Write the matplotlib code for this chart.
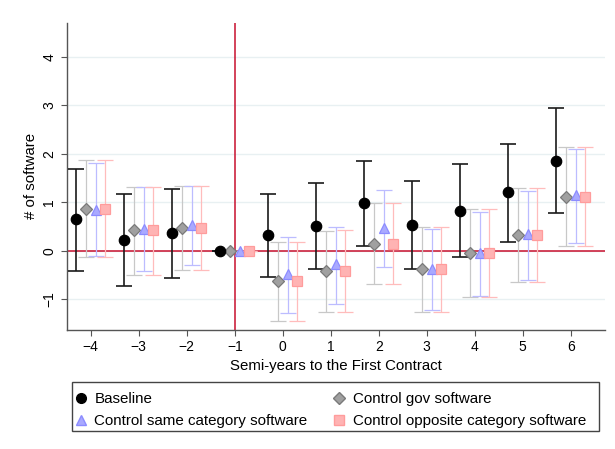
import numpy as np
import matplotlib
matplotlib.use("Agg")
import matplotlib.pyplot as plt
from matplotlib.lines import Line2D
from matplotlib.patches import Rectangle

plt.rcParams['font.family'] = ['Liberation Sans', 'DejaVu Sans']

# semi-years relative to first contract
periods = [-4, -3, -2, -1, 0, 1, 2, 3, 4, 5, 6]

base = [0.65, 0.22, 0.36, 0, 0.32, 0.51, 0.98, 0.53, 0.83, 1.21, 1.86]
base_lo = [-0.42, -0.72, -0.55, 0, -0.54, -0.38, 0.10, -0.38, -0.12, 0.19, 0.78]
base_hi = [1.69, 1.18, 1.27, 0, 1.17, 1.39, 1.85, 1.44, 1.78, 2.21, 2.95]

gov = [0.87, 0.43, 0.47, 0, -0.63, -0.41, 0.15, -0.38, -0.05, 0.32, 1.11]
gov_lo = [-0.12, -0.49, -0.40, 0, -1.44, -1.26, -0.68, -1.26, -0.96, -0.64, 0.10]
gov_hi = [1.87, 1.32, 1.33, 0, 0.19, 0.41, 0.99, 0.50, 0.86, 1.29, 2.14]

same = [0.85, 0.46, 0.54, 0, -0.48, -0.27, 0.47, -0.37, -0.04, 0.34, 1.15]
same_lo = [-0.10, -0.41, -0.30, 0, -1.28, -1.10, -0.34, -1.21, -0.92, -0.59, 0.16]
same_hi = [1.80, 1.31, 1.33, 0, 0.28, 0.50, 1.25, 0.46, 0.80, 1.24, 2.10]

opp = [0.87, 0.42, 0.47, 0, -0.63, -0.42, 0.15, -0.38, -0.05, 0.32, 1.11]
opp_lo = [-0.12, -0.50, -0.40, 0, -1.44, -1.26, -0.68, -1.26, -0.96, -0.64, 0.10]
opp_hi = [1.87, 1.32, 1.33, 0, 0.19, 0.43, 0.99, 0.50, 0.86, 1.29, 2.14]

fig = plt.figure(figsize=(6.15, 4.49), dpi=100)
ax = fig.add_axes([0.1085, 0.265, 0.875, 0.6845])

x = np.array(periods, dtype=float)

def draw(vals, lo, hi, off, mk, ms, fc, ec, errc, lw, z):
    vals = np.array(vals)
    yerr = [vals - np.array(lo), np.array(hi) - vals]
    ax.errorbar(x + off, vals, yerr=yerr, fmt="none", ecolor=errc,
                elinewidth=lw, capsize=5.5, capthick=lw, zorder=z)
    ax.plot(x + off, vals, linestyle="none", marker=mk, markersize=ms,
            markerfacecolor=fc, markeredgecolor=ec, markeredgewidth=0.9,
            zorder=z + 5)

draw(base, base_lo, base_hi, -0.3, "o", 7.5, "black", "black", "#1a1a1a", 1.2, 4)
draw(gov, gov_lo, gov_hi, -0.1, "D", 6.5, "#a0a0a0", "#7a7a7a", "#c8c8c8", 0.9, 3)
draw(same, same_lo, same_hi, 0.1, "^", 7, "#a9a9ff", "#8c8cff", "#bcbcff", 0.9, 3)
draw(opp, opp_lo, opp_hi, 0.3, "s", 6.5, "#ffb3b3", "#ff9c9c", "#ffbcbc", 0.9, 3)

ax.axhline(0, color="#c8102e", lw=1.1, zorder=2)
ax.axvline(-1, color="#c8102e", lw=1.1, zorder=2)

ax.set_xlim(-4.5, 6.71)
ax.set_ylim(-1.63, 4.70)
ax.set_xticks(periods)
ax.set_yticks([-1, 0, 1, 2, 3, 4])
ax.tick_params(axis="y", labelrotation=90, labelsize=10, length=4, color="#555555")
ax.tick_params(axis="x", labelsize=10, length=4, color="#555555")
for lab in ax.get_yticklabels():
    lab.set_va("center")
ax.yaxis.grid(True, color="#e8f0f2", lw=1)
ax.set_axisbelow(True)
for s in ["top", "right"]:
    ax.spines[s].set_visible(False)
for s in ["left", "bottom"]:
    ax.spines[s].set_color("#555555")
    ax.spines[s].set_linewidth(1)

ax.set_xlabel("Semi-years to the First Contract", fontsize=10.8, labelpad=3)
ax.set_ylabel("# of software", fontsize=10.8, labelpad=3)

handles = [
    Line2D([], [], ls="none", marker="o", ms=7, mfc="black", mec="black"),
    Line2D([], [], ls="none", marker="^", ms=7, mfc="#a9a9ff", mec="#8c8cff"),
    Line2D([], [], ls="none", marker="D", ms=6.5, mfc="#a0a0a0", mec="#7a7a7a"),
    Line2D([], [], ls="none", marker="s", ms=6.5, mfc="#ffb3b3", mec="#ff9c9c"),
]
labels = ["Baseline", "Control same category software",
          "Control gov software", "Control opposite category software"]
fig.legend(handles, labels, ncol=2, frameon=False, fontsize=10.9,
           loc="upper left", bbox_to_anchor=(0.124, 0.127),
           handlelength=0.6, handletextpad=0.6, columnspacing=1.8,
           labelspacing=0.55, borderpad=0, borderaxespad=0)

fig.add_artist(Rectangle((0.117, 0.0408), 0.857, 0.109, transform=fig.transFigure,
                         fill=False, edgecolor="#444444", lw=1))

fig.savefig("out.png", dpi=100)
